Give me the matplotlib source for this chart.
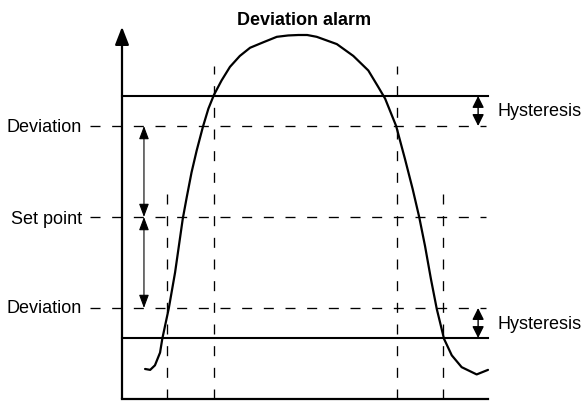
import matplotlib.pyplot as plt
import numpy as np

plt.rcParams['font.family'] = ['Liberation Sans', 'DejaVu Sans']
plt.rcParams['lines.scale_dashes'] = False

# Niveles (en unidades de desviacion)
set_point = 0.0
deviation = 1.0
hysteresis = 0.33
y_bottom = -2.0
y_top = 2.09

# Tiempos de los cruces (lineas verticales discontinuas)
t_on = [2.5, 7.5]        # cruces con la histeresis superior
t_off = [1.23, 8.77]     # cruces con la histeresis inferior
t_end = 10.0

# Curva del proceso
curve_t = [0.63, 0.77, 0.90, 1.04, 1.10, 1.28, 1.45, 1.66, 1.77, 1.90, 2.04, 2.21,
           2.36, 2.51, 2.72, 2.95, 3.22, 3.50, 3.86, 4.23, 4.54, 4.82, 5.06, 5.32,
           5.87, 6.32, 6.73, 7.00, 7.19, 7.49, 7.73, 7.94, 8.12, 8.28, 8.44, 8.60,
           8.80, 9.01, 9.28, 9.69, 10.0]
curve_v = [-1.67, -1.68, -1.63, -1.49, -1.34, -1.00, -0.61, -0.02, 0.22, 0.49, 0.73, 0.99,
           1.19, 1.34, 1.50, 1.65, 1.77, 1.86, 1.92, 1.98, 1.995, 2.00, 2.00, 1.98,
           1.90, 1.77, 1.61, 1.43, 1.30, 1.00, 0.64, 0.31, 0.00, -0.32, -0.68, -1.01,
           -1.34, -1.52, -1.65, -1.73, -1.68]

# escala de pixeles del dibujo original
X0, XS = 122.0, 36.6
Y0, YS = 218.0, 91.0

fig = plt.figure(figsize=(5.85, 4.02), dpi=100)
ax = fig.add_axes([0, 0, 1, 1])
ax.set_xlim(-X0 / XS, (585 - X0) / XS)
ax.set_ylim((Y0 - 402) / YS, Y0 / YS)
ax.axis('off')

dash = dict(color='black', linewidth=0.95, dashes=(7.2, 8.4))

# lineas horizontales discontinuas: desviaciones y set point
for lvl in [set_point + deviation, set_point, set_point - deviation]:
    ax.plot([-0.875, 9.95], [lvl, lvl], **dash)

# lineas solidas de histeresis
for lvl in [deviation + hysteresis, -deviation - hysteresis]:
    ax.plot([0, t_end], [lvl, lvl], color='black', linewidth=1.5)

# verticales discontinuas
for t in t_on:
    ax.plot([t, t], [y_bottom, 1.66], **dash)
for t in t_off:
    ax.plot([t, t], [y_bottom, 0.33], **dash)

# ejes
ax.plot([0, t_end], [y_bottom, y_bottom], color='black', linewidth=1.6)
ax.annotate('', xy=(0, y_top), xytext=(0, y_bottom),
            arrowprops=dict(arrowstyle='-|>,head_length=0.9,head_width=0.35',
                            color='black', linewidth=1.6, shrinkA=0, shrinkB=0,
                            mutation_scale=12))

# curva
ax.plot(curve_t, curve_v, color='black', linewidth=1.6, solid_capstyle='round',
        solid_joinstyle='round')

# flechas de desviacion
arr = dict(arrowstyle='<|-|>,head_length=0.8,head_width=0.3', color='black',
           linewidth=0.8, shrinkA=0, shrinkB=0, mutation_scale=10)
ax.annotate('', xy=(0.6, deviation), xytext=(0.6, set_point), arrowprops=arr)
ax.annotate('', xy=(0.6, set_point), xytext=(0.6, -deviation), arrowprops=arr)

# flechas de histeresis
arr_h = dict(arrowstyle='<|-|>,head_length=0.7,head_width=0.35', color='black',
             linewidth=1.0, shrinkA=0, shrinkB=0, mutation_scale=10)
ax.annotate('', xy=(9.73, deviation + hysteresis), xytext=(9.73, deviation), arrowprops=arr_h)
ax.annotate('', xy=(9.73, -deviation), xytext=(9.73, -deviation - hysteresis), arrowprops=arr_h)

# textos
fs = 13
ax.text(-1.09, deviation, 'Deviation', ha='right', va='center', fontsize=fs)
ax.text(-1.09, set_point, 'Set point', ha='right', va='center_baseline', fontsize=fs)
ax.text(-1.09, -deviation, 'Deviation', ha='right', va='center', fontsize=fs)
ax.text(10.25, deviation + hysteresis / 2, 'Hysteresis', ha='left', va='center', fontsize=fs)
ax.text(10.25, -deviation - hysteresis / 2, 'Hysteresis', ha='left', va='center', fontsize=fs)
ax.text(4.97, 2.12, 'Deviation alarm', ha='center', va='baseline', fontsize=fs,
        fontweight='bold')

fig.savefig('out.png', dpi=100)
